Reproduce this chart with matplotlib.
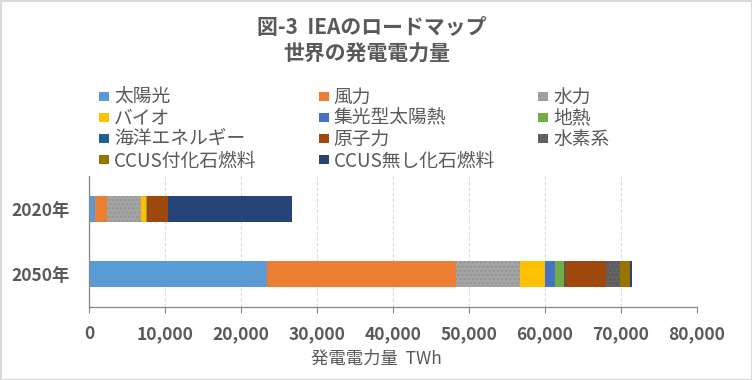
import matplotlib.pyplot as plt
from matplotlib.patches import Rectangle
from matplotlib.ticker import FuncFormatter

plt.rcParams['font.family'] = ['Noto Sans CJK JP', 'DejaVu Sans']

TEXT = '#595959'

years = ['2020年', '2050年']
series = ['太陽光', '風力', '水力', 'バイオ', '集光型太陽熱', '地熱',
          '海洋エネルギー', '原子力', '水素系', 'CCUS付化石燃料', 'CCUS無し化石燃料']
colors = ['#5B9BD5', '#ED7D31', '#A5A5A5', '#FFC000', '#4472C4', '#70AD47',
          '#255E91', '#9E480E', '#636363', '#997300', '#264478']
hatch_colors = [None, None, '#939393', None, None, None, None, None, '#575757', None, None]

# TWh, [2020, 2050]
values = [
    [821, 23469],
    [1592, 24785],
    [4418, 8461],
    [718, 3279],
    [13, 1386],
    [94, 1086],
    [1, 120],
    [2698, 5497],
    [0, 1733],
    [4, 1330],
    [16400, 260],
]

fig = plt.figure(figsize=(7.52, 3.80), dpi=100)
ax = fig.add_axes([89 / 752, 1 - 307 / 380, 608 / 752, 131 / 380])

ypos = [1, 0]
left = [0, 0]
for name, vals, c, hc in zip(series, values, colors, hatch_colors):
    if hc:
        ax.barh(ypos, vals, left=left, height=0.39, color=c, hatch='....',
                edgecolor=hc, linewidth=0)
    else:
        ax.barh(ypos, vals, left=left, height=0.39, color=c, linewidth=0)
    left = [l + v for l, v in zip(left, vals)]

ax.set_xlim(0, 80000)
ax.set_ylim(-0.5, 1.5)
ax.set_xticks(range(0, 80001, 10000))
ax.xaxis.set_major_formatter(FuncFormatter(lambda v, p: f'{int(v):,}'))
ax.set_yticks(ypos)
ax.set_yticklabels(years)
ax.grid(axis='x', color='#D9D9D9', linestyle=(0, (3, 2)), linewidth=0.8)
ax.set_axisbelow(True)
for s in ['top', 'right']:
    ax.spines[s].set_visible(False)
for s in ['left', 'bottom']:
    ax.spines[s].set_color('#868686')
    ax.spines[s].set_linewidth(0.9)
ax.tick_params(axis='x', length=4, color='#868686', labelsize=12.5,
               labelcolor=TEXT, pad=9)
ax.tick_params(axis='y', length=0, labelsize=12.5, labelcolor=TEXT, pad=14)
for lab in ax.get_xticklabels() + ax.get_yticklabels():
    lab.set_fontweight('bold')

fig.text(0.5, 1 - 359 / 380, '発電電力量  TWh', ha='center', va='center',
         fontsize=12.5, color=TEXT)

fig.text(372 / 752, 1 - 28 / 380, '図-3  IEAのロードマップ', ha='center', va='center',
         fontsize=15, fontweight='bold', color=TEXT)
fig.text(367 / 752, 1 - 54 / 380, '世界の発電電力量', ha='center', va='center',
         fontsize=15, fontweight='bold', color=TEXT)

# legend, row-major in 3 columns
for i, (name, c, hc) in enumerate(zip(series, colors, hatch_colors)):
    row, col = divmod(i, 3)
    x = 99 + col * 219.5
    y = 96 + row * 21.3
    fig.patches.append(Rectangle((x / 752, 1 - (y + 4.5) / 380), 10 / 752, 9 / 380,
                                 transform=fig.transFigure, facecolor=c,
                                 hatch='....' if hc else None,
                                 edgecolor=hc if hc else c, linewidth=0))
    fig.text((x + 15) / 752, 1 - (y + 1) / 380, name, ha='left', va='center',
             fontsize=13.5, color=TEXT)

fig.patches.append(Rectangle((0.5 / 752, 0.5 / 380), 751 / 752, 379 / 380,
                             transform=fig.transFigure, fill=False,
                             edgecolor='#D9D9D9', linewidth=1.5))

fig.savefig('out.png', dpi=100)
